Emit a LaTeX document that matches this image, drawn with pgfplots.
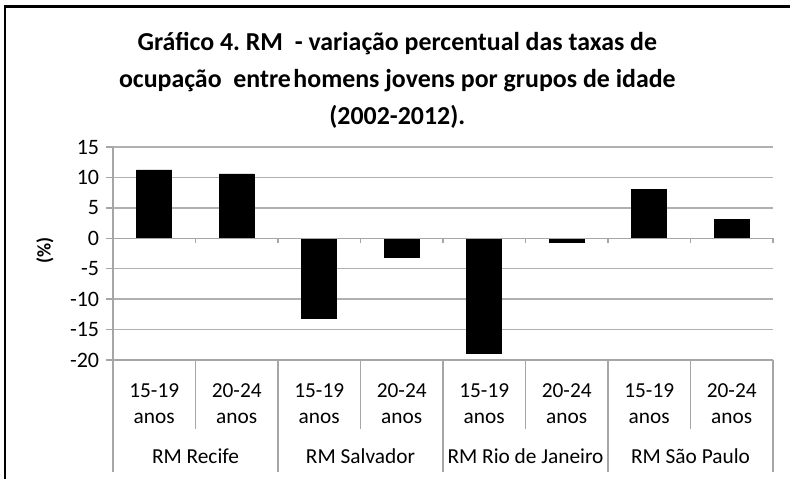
\documentclass[border=0pt]{standalone}
\usepackage{pgfplots}
\pgfplotsset{compat=1.18}
\usepackage{fontspec}
\setmainfont{Carlito}
\frenchspacing
\definecolor{axgray}{HTML}{A6A6A6}
\definecolor{gridgray}{HTML}{B0B0B0}
\begin{document}
\begin{tikzpicture}
\path[use as bounding box] (0,0) rectangle (592.5pt,359.25pt);
\draw[line width=1.6pt] (3.75pt,-5pt) -- (3.75pt,354.4pt) -- (600pt,354.4pt);
\begin{scope}[every node/.style={anchor=base, font=\bfseries\fontsize{19.4}{22}\selectfont}]
\node at (298pt,321pt) {Gráfico 4. RM\ \ - variação percentual das taxas de};
\node at (298pt,293.25pt) {ocupação\ \ entre\hspace{0.1em}homens jovens por grupos de idade};
\node at (298pt,265.5pt) {(2002-2012).};
\end{scope}
\begin{axis}[
  at={(84.75pt,89.25pt)}, anchor=south west,
  scale only axis, width=495pt, height=159.75pt,
  xmin=-0.5, xmax=7.5, ymin=-20, ymax=15,
  ytick={-20,-15,...,15},
  xtick={0,...,7},
  xticklabels={15-19,20-24,15-19,20-24,15-19,20-24,15-19,20-24},
  xticklabel style={anchor=base, font=\fontsize{16}{19}\selectfont, yshift=-22.5pt, inner sep=0pt},
  yticklabel style={font=\fontsize{16.5}{19}\selectfont, inner sep=0pt, anchor=east, xshift=-5pt},
  /pgf/number format/assume math mode=true,
  xtick style={draw=none},
  ytick style={draw=axgray, line width=1pt},
  tick align=outside, major tick length=5.25pt,
  axis x line*=bottom, axis y line*=left,
  axis line style={draw=axgray, line width=1pt, -},
  ymajorgrids, grid style={draw=gridgray, line width=1pt},
  ylabel={\textbf{(\%)}},
  ylabel style={at={(axis description cs:-0.103,0.515)}, anchor=center, font=\fontsize{14.5}{17}\selectfont},
  ybar, bar width=26.25pt,
  clip=false,
]
\addplot[fill=black, draw=black] coordinates {(0,11.25) (1,10.6) (2,-13.2) (3,-3.2) (4,-18.85) (5,-0.6) (6,8.0) (7,3.1)};
\draw[axgray, line width=1pt] (axis cs:-0.5,0) -- (axis cs:7.5,0);
\pgfplotsinvokeforeach{-0.5,0.5,1.5,2.5,3.5,4.5,5.5,6.5,7.5}{
  \draw[axgray, line width=1pt] (axis cs:#1,0) -- ++(0pt,-3.75pt);
}
\pgfplotsinvokeforeach{-0.5,1.5,3.5,5.5,7.5}{
  \draw[axgray, line width=1pt] (axis cs:#1,-20) -- ++(0pt,-84pt);
}
\pgfplotsinvokeforeach{0.5,2.5,4.5,6.5}{
  \draw[axgray, line width=1pt] (axis cs:#1,-20) -- ++(0pt,-51.75pt);
}
\pgfplotsinvokeforeach{0,...,7}{
  \node[anchor=base, font=\fontsize{16}{19}\selectfont, inner sep=0pt, yshift=-47.25pt] at (axis cs:#1,-20) {anos};
}
\node[anchor=base, inner sep=0pt, font=\fontsize{16}{19}\selectfont, yshift=-77.25pt] at (axis cs:0.5,-20) {RM Recife};
\node[anchor=base, inner sep=0pt, font=\fontsize{16}{19}\selectfont, yshift=-77.25pt] at (axis cs:2.5,-20) {RM Salvador};
\node[anchor=base, inner sep=0pt, font=\fontsize{16}{19}\selectfont, yshift=-77.25pt] at (axis cs:4.5,-20) {RM Rio de Janeiro};
\node[anchor=base, inner sep=0pt, font=\fontsize{16}{19}\selectfont, yshift=-77.25pt] at (axis cs:6.5,-20) {RM São Paulo};
\end{axis}
\end{tikzpicture}
\end{document}
